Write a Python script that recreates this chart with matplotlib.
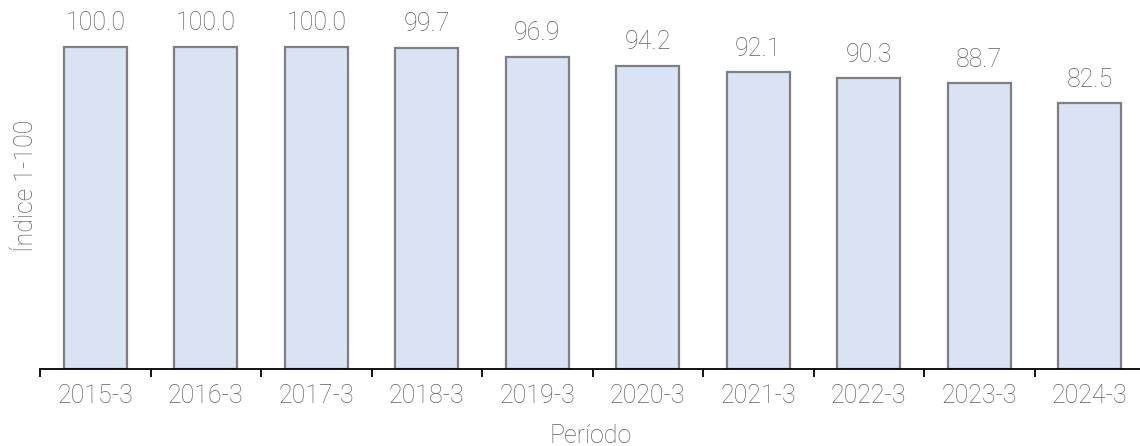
import matplotlib
matplotlib.use("Agg")
import matplotlib.pyplot as plt
import numpy as np

categories = ["2015-3", "2016-3", "2017-3", "2018-3", "2019-3",
              "2020-3", "2021-3", "2022-3", "2023-3", "2024-3"]
values = [100.0, 100.0, 100.0, 99.7, 96.9, 94.2, 92.1, 90.3, 88.7, 82.5]

plt.rcParams['font.family'] = ['Roboto', 'DejaVu Sans']
TXT = '#5f5f5f'
FS = 18
FW = 'light'

W, H = 1140, 446
fig = plt.figure(figsize=(W / 100, H / 100), dpi=100)
left, right, bottom = 40, 1145, 369
ymax = 112
top = bottom - 322 / 100 * ymax
ax = fig.add_axes([left / W, 1 - bottom / H, (right - left) / W, (bottom - top) / H])

x = np.arange(len(categories))
ax.bar(x, values, width=0.57, color='#dae3f3', edgecolor='#7f7f7f', linewidth=1.6, zorder=2)
for xi, v in zip(x, values):
    ax.annotate(f"{v:.1f}", xy=(xi, v), xytext=(0, 12), textcoords='offset points',
                ha='center', va='baseline', fontsize=FS, color=TXT, fontweight=FW)

ax.set_xlim(-0.5, len(categories) - 0.5)
ax.set_ylim(0, ymax)
for s in ['top', 'right', 'left']:
    ax.spines[s].set_visible(False)
ax.spines['bottom'].set_linewidth(1.3)
ax.spines['bottom'].set_color('black')
ax.set_yticks([])
ax.set_xticks(np.arange(len(categories)) - 0.5)
ax.set_xticklabels([])
ax.tick_params(axis='x', which='major', length=6, width=1.3, color='black')
ax.set_xticks(x, minor=True)
ax.set_xticklabels(categories, minor=True, fontsize=FS, color=TXT, fontweight=FW)
ax.tick_params(axis='x', which='minor', length=0, pad=11)

fig.text(33 / W, 1 - 186 / H, "Índice 1-100", rotation=90, rotation_mode='anchor',
         ha='center', va='baseline', fontsize=FS, color=TXT, fontweight=FW)
fig.text(591 / W, 1 - 443 / H, "Período", ha='center', va='baseline',
         fontsize=FS, color=TXT, fontweight=FW)

fig.savefig("out.png", dpi=100)
